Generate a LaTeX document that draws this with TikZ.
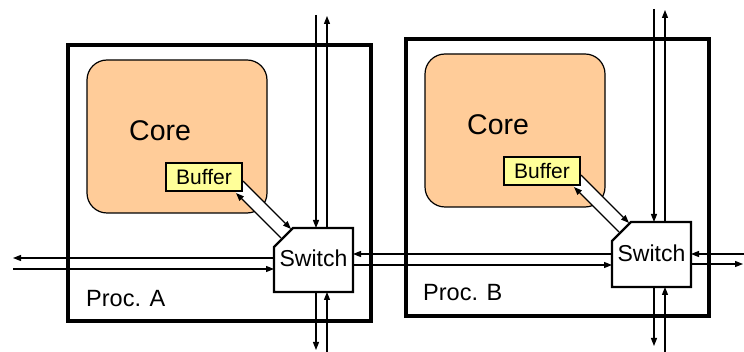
\documentclass[tikz,border=0pt]{standalone}
\usepackage{fontspec}
\setmainfont{Liberation Sans}
\usetikzlibrary{arrows.meta}
\definecolor{corefill}{HTML}{FFCC99}
\definecolor{buffill}{HTML}{FFFF99}
\begin{document}
\begin{tikzpicture}[x=1pt,y=-1pt,
  proc/.style={draw, line width=4pt, inner sep=0pt},
  core/.style={draw, line width=1.2pt, fill=corefill, rounded corners=20pt, inner sep=0pt},
  buf/.style={draw, line width=1.3pt, fill=buffill, inner sep=0pt, minimum width=76pt, minimum height=28pt, font=\fontsize{21}{22}\selectfont},
  bigtext/.style={inner sep=0pt, anchor=base west, font=\fontsize{28.5}{30}\selectfont},
  proctext/.style={inner sep=0pt, anchor=base west, font=\fontsize{23.5}{26}\selectfont},
  swtext/.style={inner sep=0pt, anchor=base, font=\fontsize{23}{25}\selectfont},
  swbox/.style={line width=2.4pt, fill=white, line join=miter},
  link/.style={line width=1.2pt, -{Triangle[length=8pt,width=6pt]}}
]
\useasboundingbox (0,0) rectangle (744,352);

% processor frames
\draw[proc] (68,45) rectangle (371,321);
\draw[proc] (406,39) rectangle (709,316);
\node[proctext] (procA) at (86,307) {Proc. A};
\node[proctext] (procB) at (423,301) {Proc. B};

% cores
\node[core, minimum width=180pt, minimum height=153pt] (coreA) at (177,136.5) {};
\node[core, minimum width=180pt, minimum height=153pt] (coreB) at (515,130.5) {};
\node[bigtext] (coreAt) at (129,141) {Core};
\node[bigtext] (coreBt) at (467,135) {Core};

% white bands between buffer and switch
\fill[white] (243,181) -- (291,229) -- (281,238) -- (236,193) -- cycle;
\fill[white] (581,175) -- (629,223) -- (619,232) -- (574,187) -- cycle;

% buffers
\node[buf] (bufA) at (204,177) {Buffer};
\node[buf] (bufB) at (542,171) {Buffer};

% coordinates for connectors
\coordinate (a1s) at (243,181); \coordinate (a1e) at (291,229);
\coordinate (a2s) at (281,238); \coordinate (a2e) at (236,193);
\coordinate (b1s) at (581,175); \coordinate (b1e) at (629,223);
\coordinate (b2s) at (619,232); \coordinate (b2e) at (574,187);

\coordinate (tAin) at (316,15);  \coordinate (tAinE) at (316,228);
\coordinate (tAout) at (327,228); \coordinate (tAoutE) at (327,16);
\coordinate (bAout) at (316,292); \coordinate (bAoutE) at (316,350);
\coordinate (bAin) at (327,352);  \coordinate (bAinE) at (327,292);
\coordinate (lAout) at (274,258); \coordinate (lAoutE) at (13,258);
\coordinate (lAin) at (13,269);   \coordinate (lAinE) at (274,269);
\coordinate (mBA) at (612,254);   \coordinate (mBAE) at (353,254);
\coordinate (mAB) at (353,265);   \coordinate (mABE) at (612,265);

\coordinate (tBin) at (654,9);    \coordinate (tBinE) at (654,222);
\coordinate (tBout) at (665,222); \coordinate (tBoutE) at (665,10);
\coordinate (bBout) at (654,287); \coordinate (bBoutE) at (654,346);
\coordinate (bBin) at (665,352);  \coordinate (bBinE) at (665,287);
\coordinate (rBin) at (744,254);  \coordinate (rBinE) at (691,254);
\coordinate (rBout) at (691,264); \coordinate (rBoutE) at (743,264);

% connectors
\foreach \s/\e in {a1s/a1e,a2s/a2e,b1s/b1e,b2s/b2e,
  tAin/tAinE,tAout/tAoutE,bAout/bAoutE,bAin/bAinE,lAout/lAoutE,lAin/lAinE,
  mBA/mBAE,mAB/mABE,tBin/tBinE,tBout/tBoutE,bBout/bBoutE,bBin/bBinE,rBin/rBinE,rBout/rBoutE}
  \draw[link] (\s) -- (\e);

% switches
\draw[swbox] (274,247) -- (293,228) -- (353,228) -- (353,292) -- (274,292) -- cycle;
\draw[swbox] (612,241) -- (631,222) -- (691,222) -- (691,287) -- (612,287) -- cycle;
\node[swtext] (swA) at (313.5,267) {Switch};
\node[swtext] (swB) at (651.5,262) {Switch};
\end{tikzpicture}
\end{document}
